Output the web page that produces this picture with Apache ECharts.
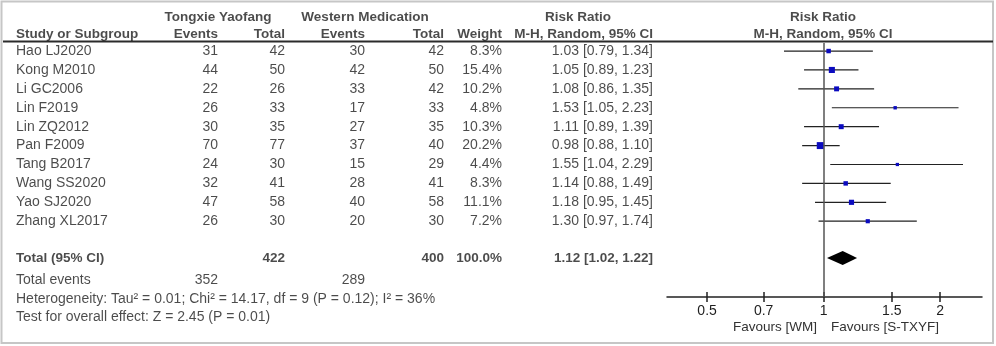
<!DOCTYPE html>
<html>
<head>
<meta charset="utf-8">
<style>
html, body { margin: 0; padding: 0; background: #fff; }
#main { width: 996px; height: 346px; }
</style>
<script src="https://cdn.jsdelivr.net/npm/echarts@6/dist/echarts.min.js"></script>
</head>
<body>
<div id="main"></div>
<script>
// 研究数据
var studies = ['Hao LJ2020', 'Kong M2010', 'Li GC2006', 'Lin F2019', 'Lin ZQ2012', 'Pan F2009', 'Tang B2017', 'Wang SS2020', 'Yao SJ2020', 'Zhang XL2017'];
var txEvents = [31, 44, 22, 26, 30, 70, 24, 32, 47, 26];
var txTotal = [42, 50, 26, 33, 35, 77, 30, 41, 58, 30];
var wmEvents = [30, 42, 33, 17, 27, 37, 15, 28, 40, 20];
var wmTotal = [42, 50, 42, 33, 35, 40, 29, 41, 58, 30];
var weights = [8.3, 15.4, 10.2, 4.8, 10.3, 20.2, 4.4, 8.3, 11.1, 7.2];
var rr = [1.03, 1.05, 1.08, 1.53, 1.11, 0.98, 1.55, 1.14, 1.18, 1.30];
var rrLow = [0.79, 0.89, 0.86, 1.05, 0.89, 0.88, 1.04, 0.88, 0.95, 0.97];
var rrHigh = [1.34, 1.23, 1.35, 2.23, 1.39, 1.10, 2.29, 1.49, 1.45, 1.74];
var pooled = [1.12, 1.02, 1.22];
var totalTx = 422, totalWm = 400, totalWeight = 100.0;
var eventsTx = 352, eventsWm = 289;
var hetText = 'Heterogeneity: Tau² = 0.01; Chi² = 14.17, df = 9 (P = 0.12); I² = 36%';
var testText = 'Test for overall effect: Z = 2.45 (P = 0.01)';
var axisTicks = [0.5, 0.7, 1, 1.5, 2];

// 行号
var headRow1 = -1.8, headRow2 = -0.9;
var totalRow = 10.95, eventsRow = 12.1, hetRow = 13.1, testRow = 14.1;

var textColor = '#1e1e1e';
var font = 'Liberation Sans, Arial, sans-serif';

function fmt(v) { return v.toFixed(2); }
function ciText(m, l, h) { return fmt(m) + ' [' + fmt(l) + ', ' + fmt(h) + ']'; }

// 文字列，用散点的label画
function textCol(x, rows, texts, align, bold) {
  return {
    type: 'scatter',
    xAxisIndex: 0,
    yAxisIndex: 0,
    silent: true,
    symbolSize: 1,
    itemStyle: { color: 'rgba(0,0,0,0)' },
    label: {
      show: true,
      position: 'inside',
      align: align,
      verticalAlign: 'middle',
      color: textColor,
      fontFamily: font,
      fontSize: bold ? 13.5 : 14,
      fontWeight: bold ? 'bold' : 'normal',
      formatter: function (p) { return p.value[2]; }
    },
    data: rows.map(function (r, i) { return [x, r, texts[i]]; })
  };
}

var idx = studies.map(function (s, i) { return i; });

var series = [
  // 表头
  textCol(218, [headRow1], ['Tongxie Yaofang'], 'center', true),
  textCol(365, [headRow1], ['Western Medication'], 'center', true),
  textCol(578, [headRow1], ['Risk Ratio'], 'center', true),
  textCol(823, [headRow1], ['Risk Ratio'], 'center', true),
  textCol(16, [headRow2], ['Study or Subgroup'], 'left', true),
  textCol(218, [headRow2], ['Events'], 'right', true),
  textCol(285, [headRow2], ['Total'], 'right', true),
  textCol(365, [headRow2], ['Events'], 'right', true),
  textCol(444, [headRow2], ['Total'], 'right', true),
  textCol(502, [headRow2], ['Weight'], 'right', true),
  textCol(653, [headRow2], ['M-H, Random, 95% CI'], 'right', true),
  textCol(823, [headRow2], ['M-H, Random, 95% CI'], 'center', true),
  // 各研究
  textCol(16, idx, studies, 'left', false),
  textCol(218, idx, txEvents, 'right', false),
  textCol(285, idx, txTotal, 'right', false),
  textCol(365, idx, wmEvents, 'right', false),
  textCol(444, idx, wmTotal, 'right', false),
  textCol(502, idx, weights.map(function (w) { return w.toFixed(1) + '%'; }), 'right', false),
  textCol(653, idx, idx.map(function (i) { return ciText(rr[i], rrLow[i], rrHigh[i]); }), 'right', false),
  // 合计
  textCol(16, [totalRow], ['Total (95% CI)'], 'left', true),
  textCol(285, [totalRow], [totalTx], 'right', true),
  textCol(444, [totalRow], [totalWm], 'right', true),
  textCol(502, [totalRow], [totalWeight.toFixed(1) + '%'], 'right', true),
  textCol(653, [totalRow], [ciText(pooled[0], pooled[1], pooled[2])], 'right', true),
  textCol(16, [eventsRow], ['Total events'], 'left', false),
  textCol(218, [eventsRow], [eventsTx], 'right', false),
  textCol(365, [eventsRow], [eventsWm], 'right', false),
  textCol(16, [hetRow], [hetText], 'left', false),
  textCol(16, [testRow], [testText], 'left', false),
  // 森林图：置信区间 + 方块
  {
    type: 'custom',
    xAxisIndex: 1,
    yAxisIndex: 1,
    silent: true,
    clip: false,
    encode: { x: [0, 2, 3], y: 1 },
    data: idx.map(function (i) { return [rr[i], i, rrLow[i], rrHigh[i], weights[i]]; }),
    renderItem: function (params, api) {
      var y = api.value(1);
      var c = api.coord([api.value(0), y]);
      var l = api.coord([api.value(2), y]);
      var h = api.coord([api.value(3), y]);
      var s = 1.55 * Math.sqrt(api.value(4));
      return {
        type: 'group',
        children: [{
          type: 'line',
          shape: { x1: l[0], y1: c[1], x2: h[0], y2: c[1] },
          style: { stroke: '#222', lineWidth: 1.2 }
        }, {
          type: 'rect',
          shape: { x: c[0] - s / 2, y: c[1] - s / 2, width: s, height: s },
          style: { fill: '#0b0bbf' }
        }]
      };
    },
    markLine: {
      silent: true,
      symbol: ['none', 'none'],
      label: { show: false },
      lineStyle: { color: '#555', width: 1.5, type: 'solid' },
      data: [[{ coord: [1, -0.426] }, { coord: [1, 13.008] }]]
    }
  },
  // 合并效应菱形
  {
    type: 'custom',
    xAxisIndex: 1,
    yAxisIndex: 1,
    silent: true,
    clip: false,
    encode: { x: [0, 1, 2], y: 3 },
    data: [[pooled[0], pooled[1], pooled[2], totalRow]],
    renderItem: function (params, api) {
      var y = api.value(3);
      var c = api.coord([api.value(0), y]);
      var l = api.coord([api.value(1), y]);
      var h = api.coord([api.value(2), y]);
      var hh = 7;
      return {
        type: 'polygon',
        shape: { points: [[l[0], c[1]], [c[0], c[1] - hh], [h[0], c[1]], [c[0], c[1] + hh]] },
        style: { fill: '#000' }
      };
    }
  }
];

var myChart = echarts.init(document.getElementById('main'));
myChart.setOption({
  animation: false,
  grid: [
    { left: 0, top: 0, width: 996, height: 346 },
    { left: 667, top: 0, width: 315, height: 297 }
  ],
  xAxis: [
    { gridIndex: 0, type: 'value', min: 0, max: 996, show: false },
    {
      gridIndex: 1, type: 'log', logBase: 10, min: 0.394, max: 2.564, position: 'bottom',
      axisLine: { show: true, onZero: false, lineStyle: { color: '#222', width: 1.5 } },
      axisTick: { show: true, inside: false, length: 5, customValues: axisTicks, lineStyle: { color: '#222', width: 1.5 } },
      axisLabel: { show: true, margin: 7, customValues: axisTicks, color: textColor, fontFamily: font, fontSize: 14,
        formatter: function (v) { return String(v); } },
      splitLine: { show: false }
    },
    {
      gridIndex: 1, type: 'log', logBase: 10, min: 0.394, max: 2.564, position: 'bottom',
      axisLine: { show: false, onZero: false },
      axisTick: { show: true, inside: true, length: 5, customValues: axisTicks, lineStyle: { color: '#222', width: 1.5 } },
      axisLabel: { show: false },
      splitLine: { show: false }
    }
  ],
  yAxis: [
    { gridIndex: 0, type: 'value', min: -2.7, max: 15.6, inverse: true, show: false },
    { gridIndex: 1, type: 'value', min: -2.7, max: 13.008, inverse: true, show: false }
  ],
  graphic: [
    {
      type: 'rect', silent: true,
      shape: { x: 1.5, y: 1.5, width: 991.5, height: 341.5 },
      style: { fill: 'none', stroke: '#c6c6c6', lineWidth: 2 }
    },
    {
      type: 'line', silent: true,
      shape: { x1: 3, y1: 41.5, x2: 993, y2: 41.5 },
      style: { stroke: '#2b2b2b', lineWidth: 2 }
    },
    {
      type: 'text', silent: true, x: 817, y: 327,
      style: { text: 'Favours [WM]', align: 'right', verticalAlign: 'middle', fill: '#333', font: '13.5px ' + font }
    },
    {
      type: 'text', silent: true, x: 831, y: 327,
      style: { text: 'Favours [S-TXYF]', align: 'left', verticalAlign: 'middle', fill: '#333', font: '13.5px ' + font }
    }
  ],
  series: series
});
</script>
</body>
</html>
